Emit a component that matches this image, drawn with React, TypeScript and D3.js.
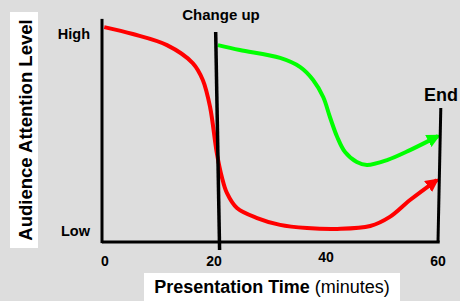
import * as d3 from "d3";

const timeTicks = [0, 20, 40, 60];
const levelLabels = ["Low", "High"];

// minutes vs attention (0 = low, 100 = high)
const noChangeTime = [0.4, 5.5, 11.6, 16.2, 18.0, 19.3, 20.5, 21.4, 22.3, 24.1, 27.7, 31.8, 36.6, 42.0, 47.9, 51.4, 55.0, 59.8];
const noChangeLevel = [96.8, 93.7, 88.7, 80.6, 73.0, 60.8, 40.1, 29.3, 22.1, 15.3, 10.8, 7.7, 6.3, 5.9, 7.2, 11.3, 18.9, 27.9];

const changeTime = [20.7, 24.6, 31.8, 35.4, 37.7, 39.5, 40.7, 42.0, 43.4, 45.5, 47.3, 50.9, 55.0, 60.0];
const changeLevel = [88.7, 86.5, 82.9, 78.8, 73.0, 65.3, 56.3, 47.3, 40.5, 36.0, 34.7, 36.9, 41.4, 47.7];

const W = 460;
const H = 301;

export default function App() {
  const x = d3.scaleLinear().domain([0, 60]).range([102, 438]);
  const y = d3.scaleLinear().domain([0, 100]).range([242, 20]);

  const line = d3
    .line<[number, number]>()
    .x((d) => x(d[0]))
    .y((d) => y(d[1]))
    .curve(d3.curveCatmullRom.alpha(0.5));

  const redPath = line(noChangeTime.map((t, i) => [t, noChangeLevel[i]])) ?? "";
  const greenPath = line(changeTime.map((t, i) => [t, changeLevel[i]])) ?? "";

  const font = "'Liberation Sans', Arial, sans-serif";

  return (
    <svg
      width={W}
      height={H}
      viewBox={`0 0 ${W} ${H}`}
      style={{ position: "absolute", left: 0, top: 0, background: "#dddddd" }}
      fontFamily={font}
    >
      <defs>
        <marker id="arrRed" viewBox="0 0 10 10" refX="8" refY="5" markerWidth="3.4" markerHeight="3.4" orient="auto" markerUnits="strokeWidth">
          <path d="M0,0 L10,5 L0,10 Z" fill="#ff0000" />
        </marker>
        <marker id="arrGreen" viewBox="0 0 10 10" refX="8" refY="5" markerWidth="3.4" markerHeight="3.4" orient="auto" markerUnits="strokeWidth">
          <path d="M0,0 L10,5 L0,10 Z" fill="#00ff00" />
        </marker>
      </defs>

      {/* y label box */}
      <rect x={10} y={12} width={28} height={236} fill="#ffffff" />
      <text
        transform={`translate(32,${130}) rotate(-90)`}
        textAnchor="middle"
        fontWeight="bold"
        fontSize={18.5}
        fill="#000"
      >
        Audience Attention Level
      </text>

      {/* x label box */}
      <rect x={144} y={273} width={256} height={28} fill="#ffffff" />
      <text x={272} y={293} textAnchor="middle" fontSize={18} fill="#000">
        <tspan fontWeight="bold">Presentation Time</tspan>
        <tspan> (minutes)</tspan>
      </text>

      {/* axes */}
      <line x1={x(0)} y1={y(100.5)} x2={x(0)} y2={y(-0.5)} stroke="#000" strokeWidth={3} />
      <line x1={x(0)} y1={y(0)} x2={x(60.3)} y2={y(0)} stroke="#000" strokeWidth={3} />

      {/* level labels */}
      {levelLabels.map((l, i) => (
        <text
          key={l}
          x={90}
          y={i === 0 ? y(2.7) : y(91.4)}
          textAnchor="end"
          fontWeight="bold"
          fontSize={14.5}
          fill="#000"
        >
          {l}
        </text>
      ))}

      {/* time ticks */}
      {timeTicks.map((t) => (
        <text
          key={t}
          x={x(t) + (t === 0 ? 3 : 0)}
          y={t === 40 ? 262 : 266}
          textAnchor="middle"
          fontWeight="bold"
          fontSize={14}
          fill="#000"
        >
          {t}
        </text>
      ))}

      {/* curves */}
      <path d={redPath} fill="none" stroke="#ff0000" strokeWidth={4} markerEnd="url(#arrRed)" />
      <path d={greenPath} fill="none" stroke="#00ff00" strokeWidth={4} markerEnd="url(#arrGreen)" />

      {/* change up & end lines */}
      <line x1={x(20.3)} y1={y(94.6)} x2={x(21.0)} y2={y(-3.6)} stroke="#000" strokeWidth={3.5} />
      <line x1={x(60.5)} y1={y(60.4)} x2={x(60.0)} y2={y(0)} stroke="#000" strokeWidth={3} />

      <text x={221} y={20} textAnchor="middle" fontWeight="bold" fontSize={15} fill="#000">
        Change up
      </text>
      <text x={441} y={101} textAnchor="middle" fontWeight="bold" fontSize={18} fill="#000">
        End
      </text>
    </svg>
  );
}
